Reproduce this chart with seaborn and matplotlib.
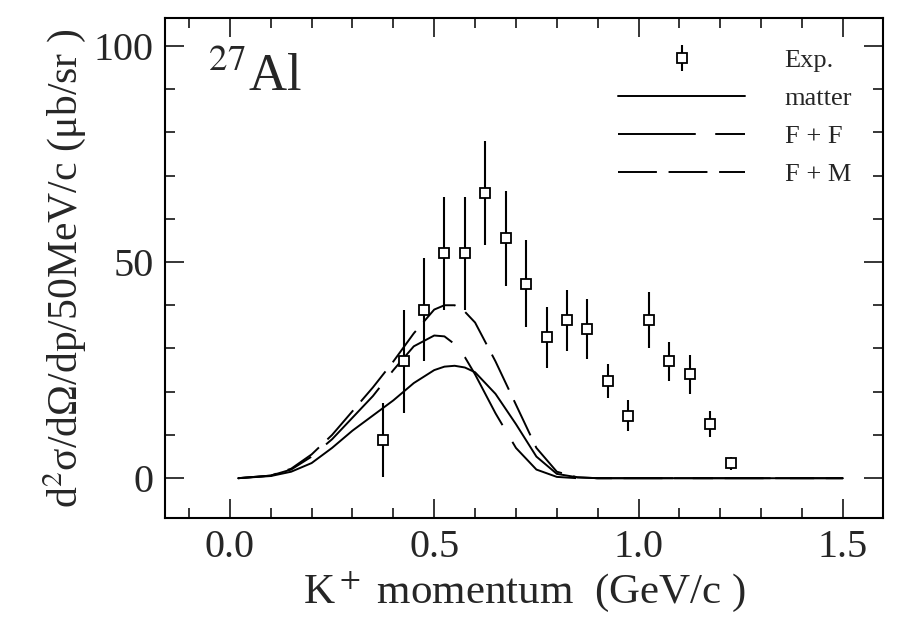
import matplotlib
matplotlib.use("Agg")
import matplotlib.pyplot as plt
import seaborn as sns
import numpy as np
from matplotlib.ticker import MultipleLocator

exp_x = [0.375,0.425,0.475,0.525,0.575,0.625,0.675,0.725,0.775,0.825,0.875,0.925,0.975,1.025,1.075,1.125,1.175,1.225]
exp_y = [8.8,27,39,52,52,66,55.5,45,32.6,36.5,34.5,22.5,14.5,36.5,27,24,12.5,3.5]
exp_err = [8.5,12,12,13,13,12,11,10,7,7,7,4,3.5,6.5,4.5,4.5,3,1.5]

cx = [0.02,0.1,0.15,0.2,0.25,0.3,0.35,0.4,0.45,0.5,0.525,0.55,0.575,0.6,0.65,0.7,0.75,0.8,0.85,0.9,1.0,1.5]
matter = [0,0.5,1.5,3.5,7,11,14.5,18,22,25,25.8,26,25.6,24.5,19.5,12.5,5,1,0.2,0,0,0]
ff = [0,0.6,2,5,9,14,19,25,30.5,33,32.8,31,28,24,15,7,2,0.3,0,0,0,0]
fm = [0,0.6,2.2,5.5,10,15.5,21,27,33.5,39,40,40,38.5,36,27,17,7,1.5,0.2,0,0,0]

sns.set_theme(style="ticks")
plt.rcParams['font.family'] = ['Liberation Serif', 'DejaVu Serif']
plt.rcParams['mathtext.fontset'] = 'stix'
fig, ax = plt.subplots(figsize=(9.01, 6.32), dpi=100)
fig.subplots_adjust(left=0.183, right=0.98, top=0.972, bottom=0.18)

sns.lineplot(x=cx, y=matter, ax=ax, color='black', lw=1.4, label='matter')
l2 = sns.lineplot(x=cx, y=ff, ax=ax, color='black', lw=1.4, label='F + F').lines[-1]
l2.set_dashes([40, 10])
l3 = sns.lineplot(x=cx, y=fm, ax=ax, color='black', lw=1.4, label='F + M').lines[-1]
l3.set_dashes([20, 6])
eb = ax.errorbar(exp_x, exp_y, yerr=exp_err, fmt='s', mfc='white', mec='black', ms=7,
                 mew=1.3, ecolor='black', elinewidth=1.5, capsize=0, label='Exp.', zorder=5)

h, lab = ax.get_legend_handles_labels()
order = [lab.index('Exp.'), lab.index('matter'), lab.index('F + F'), lab.index('F + M')]
ax.legend([h[i] for i in order], [lab[i] for i in order], loc='upper right', frameon=False,
          fontsize=19, handlelength=4.8, handletextpad=1.5, labelspacing=0.55,
          bbox_to_anchor=(0.99, 0.985))

ax.set_xlim(-0.159, 1.598)
ax.set_ylim(-9.26, 106.5)
ax.xaxis.set_major_locator(MultipleLocator(0.5))
ax.xaxis.set_minor_locator(MultipleLocator(0.1))
ax.yaxis.set_major_locator(MultipleLocator(50))
ax.yaxis.set_minor_locator(MultipleLocator(10))
ax.set_xticks([0.0, 0.5, 1.0, 1.5])
ax.set_xticklabels(['0.0', '0.5', '1.0', '1.5'])
ax.tick_params(which='both', direction='in', top=True, right=True, labelsize=29, width=1.3)
ax.tick_params(which='major', length=14, pad=8)
ax.tick_params(which='minor', length=7)
for s in ax.spines.values():
    s.set_linewidth(1.5); s.set_color('black')
ax.set_xlabel('K$^+$ momentum  (GeV/c )', fontsize=31, labelpad=2)
ax.set_ylabel('d$^2$σ/dΩ/dp/50MeV/c (μb/sr )', fontsize=30, labelpad=4)
ax.text(0.06, 0.93, '$^{27}$Al', transform=ax.transAxes, fontsize=38, va='top')
fig.savefig('out.png', dpi=100)
